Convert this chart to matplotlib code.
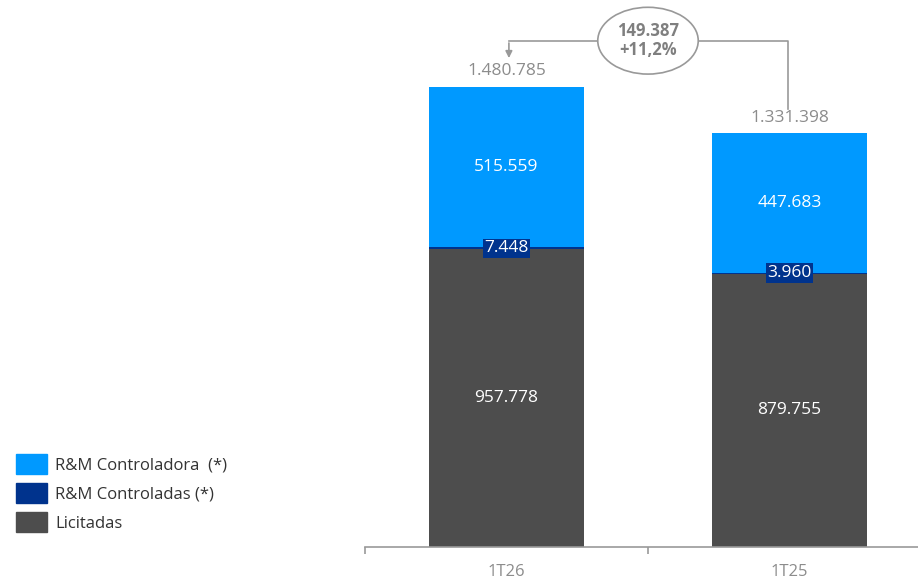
import matplotlib.pyplot as plt
from matplotlib.patches import Ellipse, Patch

plt.rcParams['font.family'] = ['Open Sans', 'DejaVu Sans']

categories = ["1T26", "1T25"]
licitadas = [957778, 879755]
controladas = [7448, 3960]
controladora = [515559, 447683]
totais = [1480785, 1331398]

c_light = "#0099FF"
c_dark = "#00338D"
c_gray = "#4D4D4D"
c_text = "#8C8C8C"


def fmt(v):
    return f"{v:,}".replace(",", ".")


fig = plt.figure(figsize=(9.18, 5.83), dpi=100)
ax = fig.add_axes([365 / 918, 36 / 583, 566 / 918, 547 / 583])

x = list(range(len(categories)))
w = 0.55
ax.bar(x, licitadas, w, color=c_gray, label="Licitadas")
b2 = [l for l in licitadas]
ax.bar(x, controladas, w, bottom=b2, color=c_dark, label="R&M Controladas (*)")
b3 = [l + c for l, c in zip(licitadas, controladas)]
ax.bar(x, controladora, w, bottom=b3, color=c_light, label="R&M Controladora  (*)")

for i in x:
    ax.text(i, licitadas[i] / 2, fmt(licitadas[i]), ha="center", va="center",
            color="white", fontsize=12.5)
    ax.text(i, b3[i] + controladora[i] / 2, fmt(controladora[i]), ha="center",
            va="center", color="white", fontsize=12.5)
    ax.text(i, licitadas[i] + controladas[i] / 2, fmt(controladas[i]), ha="center",
            va="center", color="white", fontsize=12.5,
            bbox=dict(boxstyle="square,pad=0.1", fc=c_dark, ec="none"))
    ax.text(i, totais[i] + 25000, fmt(totais[i]), ha="center", va="bottom",
            color=c_text, fontsize=12.5)

ax.set_xlim(-0.5, 1.5)
ax.set_ylim(0, 1761000)

# annotation for difference
diff = totais[0] - totais[1]
pct = diff / totais[1] * 100
ytop = 1630000
pct_txt = f"+{pct:.1f}%".replace(".", ",")
ax.add_patch(Ellipse((0.5, ytop), 0.355, 215000, fc="white", ec="#999999", lw=1.2,
                     zorder=3))
ax.text(0.5, ytop, f"{fmt(diff)}\n{pct_txt}",
        ha="center", va="center", fontsize=12, fontweight="bold",
        color="#7F7F7F", zorder=4, linespacing=1.1)
ax.plot([0.5, 0.0085], [ytop, ytop], color="#999999", lw=1.2, zorder=2)
ax.annotate("", xy=(0.0085, 1565000), xytext=(0.0085, ytop + 1500),
            arrowprops=dict(arrowstyle="-|>", color="#999999", lw=1.2,
                            mutation_scale=10))
ax.plot([0.5, 0.995, 0.995], [ytop, ytop, 1410000], color="#999999", lw=1.2,
        zorder=2)

ax.set_xticks([-0.5, 0.5, 1.5], minor=False)
ax.set_xticklabels([])
ax.tick_params(axis="x", length=5, color="#999999", width=1.2)
ax.set_xticks(x, minor=True)
ax.set_xticklabels(categories, minor=True)
ax.tick_params(axis="x", which="minor", length=0, labelsize=12,
               labelcolor=c_text, pad=12)
ax.set_yticks([])
for s in ["top", "right", "left"]:
    ax.spines[s].set_visible(False)
ax.spines["bottom"].set_color("#999999")
ax.spines["bottom"].set_linewidth(1.2)

handles = [Patch(color=c_light), Patch(color=c_dark), Patch(color=c_gray)]
labels = ["R&M Controladora  (*)", "R&M Controladas (*)", "Licitadas"]
fig.legend(handles, labels, loc="lower left", bbox_to_anchor=(1 / 918, 36 / 583),
           frameon=False, fontsize=12, handlelength=1.85, handleheight=1.45,
           handletextpad=0.5, labelspacing=0.55, labelcolor="#333333")

fig.savefig("out.png", dpi=100)
